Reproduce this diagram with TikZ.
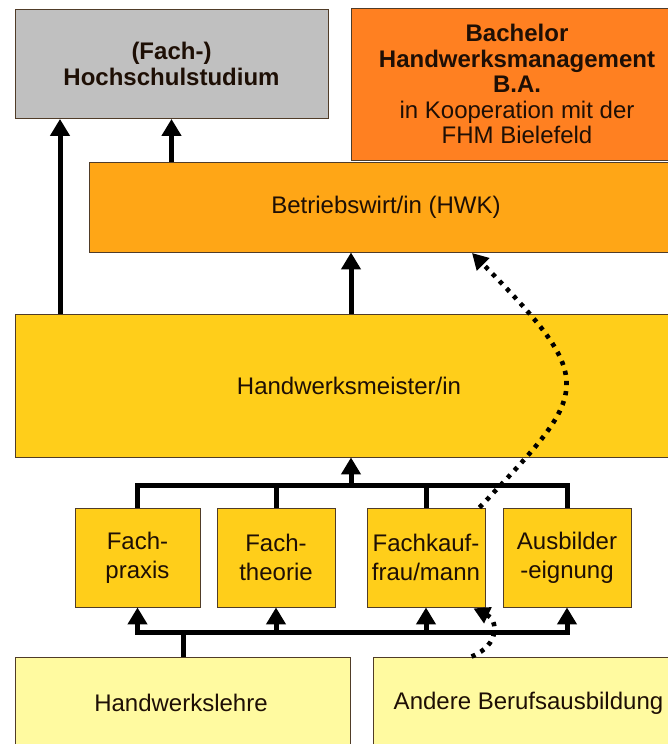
\documentclass[tikz,border=0pt]{standalone}
\usepackage{fontspec}
\setmainfont{Liberation Sans}
\usetikzlibrary{arrows.meta,calc}
\definecolor{cgray}{RGB}{192,192,192}
\definecolor{cbach}{RGB}{255,128,33}
\definecolor{cbetr}{RGB}{255,166,22}
\definecolor{cgold}{RGB}{255,206,26}
\definecolor{clight}{RGB}{255,250,160}
\definecolor{cborder}{RGB}{80,60,40}
\definecolor{ctext}{RGB}{30,15,5}
\tikzset{
  box/.style={draw=cborder, line width=0.9pt, rectangle, inner sep=0pt, align=center,
    text=ctext, font=\fontsize{24}{25.5}\selectfont},
  conn/.style={line width=5pt, black},
  arr/.style={line width=5pt, black, -{Triangle[width=19pt,length=17pt]}},
  dotarr/.style={line width=4.6pt, black, dash pattern=on 4.2pt off 6pt,
    -{Triangle[width=17pt,length=16pt]}}
}
\begin{document}
\begin{tikzpicture}[x=1pt,y=-1pt]
\useasboundingbox (0,0) rectangle (668,744);
\clip (0,0) rectangle (668,744);
\fill[white] (0,0) rectangle (668,744);
% boxes
\node[box, fill=cgray, minimum width=313pt, minimum height=109pt, font=\bfseries\fontsize{24}{25.5}\selectfont]
  (gray) at (171.5,64) {(Fach-)\\Hochschulstudium};
\node[box, fill=cbach, minimum width=332pt, minimum height=152pt] (bach) at (517,84)
  {\textbf{Bachelor}\\\textbf{Handwerksmanagement}\\\textbf{B.A.}\\in Kooperation mit der\\FHM Bielefeld};
\node[box, fill=cbetr, minimum width=594pt, minimum height=90pt] (betr) at (386,207) {Betriebswirt/in (HWK)};
\node[box, fill=cgold, minimum width=668pt, minimum height=143pt] (meister) at (349,385.5) {Handwerksmeister/in};
\node[box, fill=cgold, minimum width=125pt, minimum height=99pt, font=\fontsize{24}{29}\selectfont] (fp) at (137.5,557.5) {Fach-\\praxis};
\node[box, fill=cgold, minimum width=118pt, minimum height=99pt, font=\fontsize{24}{29}\selectfont] (ft) at (276,557.5) {Fach-\\theorie};
\node[box, fill=cgold, minimum width=118pt, minimum height=99pt, font=\fontsize{24}{29}\selectfont] (fk) at (426,557.5) {Fachkauf-\\frau/mann};
\node[box, fill=cgold, minimum width=128pt, minimum height=99pt, font=\fontsize{24}{29}\selectfont] (ae) at (567,557.5) {Ausbilder\\-eignung};
\node[box, fill=clight, minimum width=335pt, minimum height=142pt] (hl) at (182.5,728) {};
\node[box, fill=clight, minimum width=311pt, minimum height=142pt] (ab) at (528.5,728) {};
\node[text=ctext, font=\fontsize{24}{25.5}\selectfont] (hltext) at (181,703) {Handwerkslehre};
\node[text=ctext, font=\fontsize{24}{25.5}\selectfont] (abtext) at (528.5,703) {Andere Berufsausbildung};
% helper coordinates
\coordinate (a1) at (60,0);
\coordinate (topbus) at (351,485);
\coordinate (botbus) at (183,632);
\coordinate (dt) at (472,253);
% arrows to Hochschulstudium
\draw[arr] (meister.north -| a1) -- (gray.south -| a1);
\draw[arr] (betr.north -| gray.south) -- (gray.south);
% Meister -> Betriebswirt
\draw[arr] (meister.north -| topbus) -- (betr.south -| topbus);
% top bus
\draw[conn] (fp.north) |- (topbus) -| (ae.north);
\draw[conn] (ft.north) -- (ft.north |- topbus);
\draw[conn] (fk.north) -- (fk.north |- topbus);
\draw[arr] (topbus) -- (meister.south -| topbus);
% bottom bus
\draw[conn, line cap=rect] (fp.south |- botbus) -- (ae.south |- botbus);
\draw[conn] (hl.north -| botbus) -- (botbus);
\draw[arr] (fp.south |- botbus) -- (fp.south);
\draw[arr] (ft.south |- botbus) -- (ft.south);
\draw[arr] (fk.south |- botbus) -- (fk.south);
\draw[arr] (ae.south |- botbus) -- (ae.south);
% dotted arrows
\draw[dotarr] ([xshift=-6pt]fk.north east) .. controls (590,391) and (600,383) .. (dt);
\draw[dotarr] ([xshift=99pt]ab.north west) .. controls (500,645) and (498,620) .. ([xshift=-12pt,yshift=-1pt]fk.south east);
\end{tikzpicture}
\end{document}
